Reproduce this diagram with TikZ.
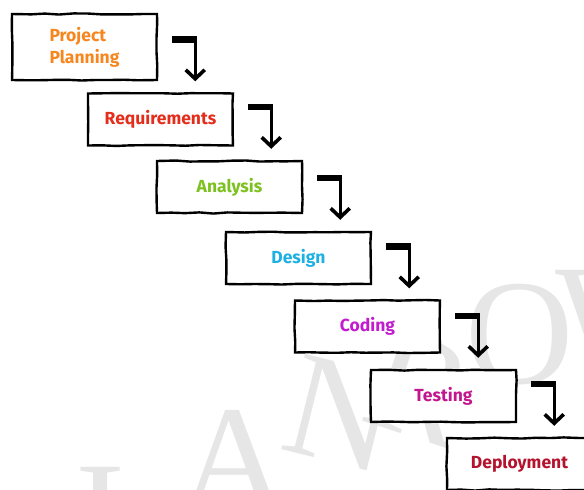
\documentclass[tikz,border=0pt]{standalone}
\usepackage{fontspec}
\setmainfont{Fira Sans}
\newfontfamily\markfont{Liberation Serif}
\usetikzlibrary{arrows.meta,calc,decorations.pathmorphing}

\definecolor{cPlan}{HTML}{F7861E}
\definecolor{cReq}{HTML}{E42D1A}
\definecolor{cAna}{HTML}{7CC11E}
\definecolor{cDes}{HTML}{1DB0E3}
\definecolor{cCod}{HTML}{C21BD0}
\definecolor{cTest}{HTML}{C3168E}
\definecolor{cDep}{HTML}{B5122E}
\definecolor{cMark}{HTML}{E6E6E6}

\tikzset{
  stagebox/.style={draw=black, line width=2.4pt, fill=white,
    minimum width=145pt, minimum height=52pt, inner sep=0pt,
    font=\fontsize{17.5}{22}\selectfont\bfseries,
    decorate, decoration={random steps, segment length=14pt, amplitude=0.6pt}},
  markletter/.style={text=cMark, inner sep=0pt,
    font=\markfont\fontsize{150}{150}\selectfont},
  barstroke/.style={line width=6.5pt, line cap=butt},
  stemstroke/.style={line width=3pt,
    -{Straight Barb[length=9pt, width=19pt, line width=3.6pt]}},
}

% elbow arrow between two consecutive stages
\newcommand\stepflow[2]{%
  \draw[barstroke] ($(#1.east |- #2.north)+(14,-53)$) -- ($(#1.east |- #2.north)+(38.5,-53)$);
  \draw[stemstroke] ($(#1.east |- #2.north)+(37,-55)$) -- ($(#1.east |- #2.north)+(37,-11)$);
}

\begin{document}
\begin{tikzpicture}[x=1pt, y=-1pt]
\useasboundingbox (0,0) rectangle (584,490);
\clip (0,0) rectangle (584,490);

% faint stamp lettering in the background
\node[markletter]  (wI) at (100,516) {I};
\node[markletter]  (wA) at (234,460) {A};
\node[markletter, rotate=-14] (wN) at (342,414) {N};
\node[markletter, rotate=-18] (wR) at (420,388) {R};
\node[markletter]  (wO) at (520,335) {O};
\node[markletter]  (wW) at (626,321) {W};

% the stages
\node[stagebox, minimum height=66pt, align=left, text=cPlan] (plan) at (84.5,47) {Project\\Planning};
\node[stagebox, text=cReq]  (req)  at (160.5,119.5) {Requirements};
\node[stagebox, text=cAna]  (ana)  at (229.5,187)   {Analysis};
\node[stagebox, text=cDes]  (des)  at (298.5,258)   {Design};
\node[stagebox, text=cCod]  (cod)  at (367.5,326.5) {Coding};
\node[stagebox, text=cTest] (test) at (443.5,396)   {Testing};
\node[stagebox, text=cDep]  (dep)  at (519.5,464)   {Deployment};

% flow between stages
\stepflow{plan}{req}
\stepflow{req}{ana}
\stepflow{ana}{des}
\stepflow{des}{cod}
\stepflow{cod}{test}
\stepflow{test}{dep}
\end{tikzpicture}
\end{document}
